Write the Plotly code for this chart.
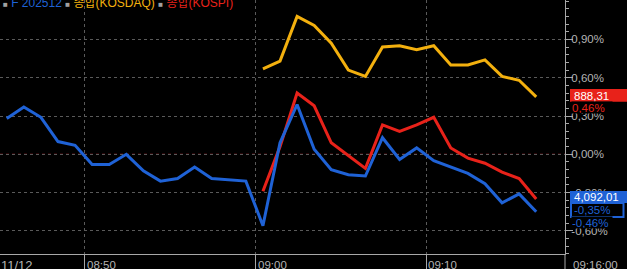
import plotly.graph_objects as go

# ---- data (percent change vs. previous close) ----
FUT_TIMES = ["08:45", "08:46", "08:47", "08:48", "08:49", "08:50", "08:51", "08:52",
             "08:53", "08:54", "08:55", "08:56", "08:57", "08:58", "08:59", "09:00",
             "09:01", "09:02", "09:03", "09:04", "09:05", "09:06", "09:07", "09:08",
             "09:09", "09:10", "09:11", "09:12", "09:13", "09:14", "09:15", "09:16"]
FUT_PCT = [0.28, 0.37, 0.29, 0.10, 0.07, -0.08, -0.08, 0.00,
           -0.13, -0.21, -0.19, -0.10, -0.19, -0.20, -0.21, -0.56,
           0.09, 0.39, 0.04, -0.12, -0.16, -0.17, 0.13, -0.04,
           0.05, -0.05, -0.10, -0.15, -0.23, -0.38, -0.31, -0.45]

IDX_TIMES = ["09:00", "09:01", "09:02", "09:03", "09:04", "09:05", "09:06", "09:07",
             "09:08", "09:09", "09:10", "09:11", "09:12", "09:13", "09:14", "09:15", "09:16"]
KOSDAQ_PCT = [0.67, 0.73, 1.08, 1.01, 0.87, 0.66, 0.61, 0.84,
              0.85, 0.82, 0.85, 0.70, 0.70, 0.74, 0.61, 0.58, 0.45]
KOSPI_PCT = [-0.29, 0.06, 0.48, 0.38, 0.09, -0.01, -0.11, 0.23,
             0.18, 0.23, 0.29, 0.05, -0.03, -0.07, -0.14, -0.19, -0.35]

SERIES_NAMES = ["F 202512", "종합(KOSDAQ)", "종합(KOSPI)"]
X_TICK_TIMES = ["08:50", "09:00", "09:10"]
DATE_LABEL = "11/12"
LAST_TIME_LABEL = "09:16:00"
Y_TICK_VALS = [-0.6, -0.3, 0.0, 0.3, 0.6, 0.9]
Y_TICK_TEXT = ["-0,60%", "-0,30%", "0,00%", "0,30%", "0,60%", "0,90%"]
KOSDAQ_LAST = "888,31"
KOSDAQ_LAST_PCT = "0,46%"
KOSPI_LAST = "4,092,01"
KOSPI_LAST_PCT = "-0,35%"
FUT_LAST_PCT = "-0,46%"

BLUE = "#1f62d6"
ORANGE = "#f3b00e"
RED = "#e8221a"
GRID = "#5a5a5a"
AXIS = "#a8a8a8"
TXT = "#b4b4b4"
FONT = "Liberation Sans, Noto Sans CJK KR, sans-serif"
FS = 11.5


def to_min(t, half=0.43):
    h, m = t.split(":")
    return int(h) * 60 + int(m) + half


fut_x = [to_min(t) for t in FUT_TIMES]
idx_x = [to_min(t) for t in IDX_TIMES]

fig = go.Figure()
fig.add_trace(go.Scatter(x=idx_x, y=KOSDAQ_PCT, mode="lines", name=SERIES_NAMES[1],
                         line=dict(color=ORANGE, width=3)))
fig.add_trace(go.Scatter(x=idx_x, y=KOSPI_PCT, mode="lines", name=SERIES_NAMES[2],
                         line=dict(color=RED, width=3)))
fig.add_trace(go.Scatter(x=fut_x, y=FUT_PCT, mode="lines", name=SERIES_NAMES[0],
                         line=dict(color=BLUE, width=3)))

W, H = 627, 269
PW, PH = 565, 254


def px_x(px):
    return px / PW


def px_y(py):
    return (PH - py) / PH


x_tick_vals = [to_min(t, 0) for t in X_TICK_TIMES]

fig.update_layout(
    width=W, height=H,
    margin=dict(l=0, r=W - PW, t=0, b=H - PH),
    paper_bgcolor="black", plot_bgcolor="black",
    showlegend=False,
    font=dict(family=FONT, size=FS, color=TXT),
    xaxis=dict(range=[525.035, 558.115], tickvals=x_tick_vals, ticktext=["", "", ""],
               showgrid=True, gridcolor=GRID, griddash="3px,3px", gridwidth=1,
               ticks="outside", ticklen=15, tickcolor=AXIS, tickwidth=1,
               showline=True, linecolor=AXIS, linewidth=1, zeroline=False,
               automargin=False, fixedrange=True),
    yaxis=dict(range=[-0.7809, 1.2086], side="right", tickvals=Y_TICK_VALS, ticktext=Y_TICK_TEXT,
               showgrid=True, gridcolor=GRID, griddash="3px,3px", gridwidth=1,
               ticks="outside", ticklen=7, tickcolor=AXIS, tickwidth=1,
               ticklabelstandoff=-4,
               minor=dict(ticks="outside", ticklen=3, tickcolor=AXIS, tick0=0, dtick=0.06, showgrid=False),
               showline=True, linecolor=AXIS, linewidth=1, zeroline=False,
               tickfont=dict(family=FONT, size=FS, color=TXT),
               automargin=False, fixedrange=True),
)

shapes = []
# zero reference line (red dashed)
shapes.append(dict(type="line", xref="paper", yref="y", x0=0, x1=1, y0=0, y1=0,
                   line=dict(color="#c8202a", width=1, dash="3px,3px"), layer="below"))
# right axis line extension into the time label strip
shapes.append(dict(type="line", xref="paper", yref="paper", x0=1, x1=1, y0=px_y(269), y1=0,
                   line=dict(color=AXIS, width=1)))
# last-value boxes
shapes.append(dict(type="rect", xref="paper", yref="paper", x0=px_x(570), x1=px_x(627),
                   y0=px_y(101.7), y1=px_y(89), fillcolor=RED, line=dict(width=0), layer="above"))
shapes.append(dict(type="rect", xref="paper", yref="paper", x0=px_x(570), x1=px_x(627),
                   y0=px_y(203), y1=px_y(191), fillcolor=BLUE, line=dict(width=0), layer="above"))
shapes.append(dict(type="rect", xref="paper", yref="paper", x0=px_x(571), x1=px_x(623.5),
                   y0=px_y(217), y1=px_y(203), fillcolor="black", line=dict(color=BLUE, width=2),
                   layer="above"))
fig.update_layout(shapes=shapes)

ann = []
# legend line at top
SQ = "<span style='font-size:8px;color:#a0a0a0'>■</span>"
legend_html = (f"{SQ} <span style='color:{BLUE}'>{SERIES_NAMES[0]}</span> "
               f"{SQ} <span style='color:{ORANGE}'>{SERIES_NAMES[1]}</span> "
               f"{SQ} <span style='color:{RED}'>{SERIES_NAMES[2]}</span>")
ann.append(dict(text=legend_html, xref="paper", yref="paper", x=px_x(1), y=px_y(3.5),
                xanchor="left", yanchor="middle", showarrow=False,
                font=dict(family=FONT, size=FS + 0.5)))
# time labels (left-aligned next to ticks)
for tv, tt in zip(x_tick_vals, X_TICK_TIMES):
    ann.append(dict(text=tt, xref="x", yref="paper", x=tv, y=px_y(258), xanchor="left",
                    yanchor="top", xshift=1, showarrow=False, borderpad=0,
                    font=dict(family=FONT, size=FS, color=TXT)))
ann.append(dict(text=DATE_LABEL, xref="paper", yref="paper", x=0, y=px_y(257), xanchor="left",
                yanchor="top", showarrow=False, borderpad=0,
                font=dict(family=FONT, size=FS + 1.5, color=TXT)))
ann.append(dict(text=LAST_TIME_LABEL, xref="paper", yref="paper", x=px_x(572), y=px_y(258),
                xanchor="left", yanchor="top", showarrow=False, borderpad=0,
                font=dict(family=FONT, size=FS, color=TXT)))
# value labels on right
ann.append(dict(text=KOSDAQ_LAST, xref="paper", yref="paper", x=px_x(573), y=px_y(95.5),
                xanchor="left", yanchor="middle", showarrow=False, borderpad=0,
                font=dict(family=FONT, size=FS, color="white")))
ann.append(dict(text=KOSDAQ_LAST_PCT, xref="paper", yref="paper", x=px_x(571), y=px_y(107.5),
                xanchor="left", yanchor="middle", showarrow=False, borderpad=0,
                bgcolor="black", width=40, height=11, align="left",
                font=dict(family=FONT, size=FS, color=RED)))
ann.append(dict(text=KOSPI_LAST, xref="paper", yref="paper", x=px_x(573), y=px_y(197),
                xanchor="left", yanchor="middle", showarrow=False, borderpad=0,
                font=dict(family=FONT, size=FS, color="white")))
ann.append(dict(text=KOSPI_LAST_PCT, xref="paper", yref="paper", x=px_x(573), y=px_y(210),
                xanchor="left", yanchor="middle", showarrow=False, borderpad=0,
                font=dict(family=FONT, size=FS, color=BLUE)))
ann.append(dict(text=FUT_LAST_PCT, xref="paper", yref="paper", x=px_x(571), y=px_y(222.5),
                xanchor="left", yanchor="middle", showarrow=False, borderpad=0,
                bgcolor="black", width=40, height=11, align="left",
                font=dict(family=FONT, size=FS, color=BLUE)))
fig.update_layout(annotations=ann)

fig.write_html("out.html", config={"displayModeBar": False})
